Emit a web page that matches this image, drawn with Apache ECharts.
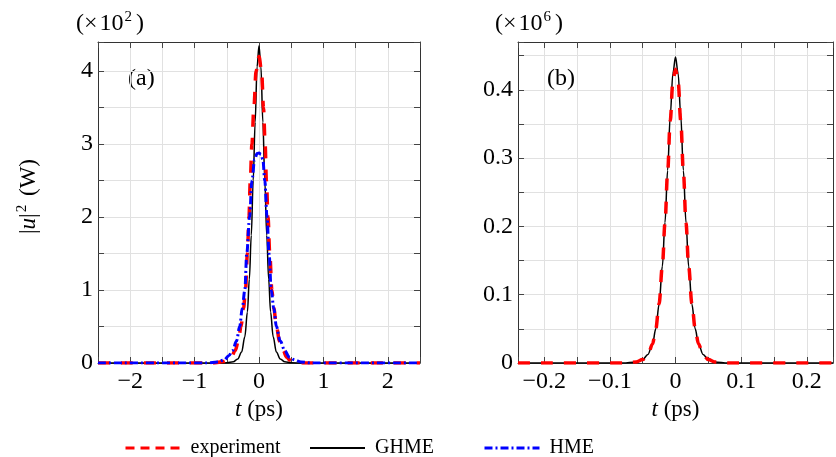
<!DOCTYPE html>
<html>
<head>
<meta charset="utf-8">
<script src="https://cdn.jsdelivr.net/npm/echarts@6/dist/echarts.min.js"></script>
<style>
  html, body { margin: 0; padding: 0; background: #fff; }
  #main { width: 836px; height: 457px; }
</style>
</head>
<body>
<div id="main"></div>
<script>
// panel (a): t (ps) vs |u|^2 in units of 1e2 W
var expA = [[-2.5, 0], [-0.7, 0], [-0.55, 0.02], [-0.48, 0.04], [-0.42, 0.1], [-0.37, 0.17], [-0.32, 0.3],
  [-0.28, 0.5], [-0.24, 0.75], [-0.21, 1.0], [-0.18, 1.5], [-0.156, 2.0], [-0.135, 2.5], [-0.11, 3.0],
  [-0.08, 3.5], [-0.045, 4.0], [0, 4.2], [0.04, 4.0], [0.07, 3.5], [0.095, 3.0], [0.115, 2.5], [0.14, 2.0],
  [0.167, 1.5], [0.2, 1.0], [0.23, 0.75], [0.27, 0.5], [0.32, 0.3], [0.375, 0.17], [0.43, 0.08],
  [0.48, 0.04], [0.55, 0.015], [0.7, 0], [2.5, 0]];
var ghmeA = [[-2.5, 0], [-0.7, 0], [-0.5, 0.003], [-0.4, 0.017], [-0.33, 0.055], [-0.27, 0.15], [-0.22, 0.36],
  [-0.18, 0.7], [-0.15, 1.15], [-0.12, 1.75], [-0.09, 2.5], [-0.06, 3.3], [-0.03, 4.06], [0, 4.35],
  [0.03, 4.06], [0.06, 3.3], [0.09, 2.5], [0.12, 1.75], [0.15, 1.15], [0.18, 0.7], [0.22, 0.36],
  [0.27, 0.15], [0.33, 0.055], [0.4, 0.017], [0.5, 0.003], [0.7, 0], [2.5, 0]];
var hmeA = [[-2.5, 0], [-0.8, 0], [-0.65, 0.015], [-0.54, 0.04], [-0.47, 0.1], [-0.41, 0.17], [-0.35, 0.3],
  [-0.3, 0.5], [-0.26, 0.75], [-0.22, 1.0], [-0.19, 1.5], [-0.146, 2.0], [-0.11, 2.5], [-0.068, 2.79],
  [-0.03, 2.87], [0, 2.88], [0.03, 2.86], [0.06, 2.79], [0.09, 2.5], [0.125, 2.0], [0.156, 1.5],
  [0.19, 1.0], [0.23, 0.75], [0.27, 0.5], [0.33, 0.3], [0.4, 0.17], [0.47, 0.08], [0.56, 0.04],
  [0.65, 0.015], [0.8, 0], [2.5, 0]];

// panel (b): t (ps) vs |u|^2 in units of 1e6 W
var expB = [[-0.24, 0], [-0.08, 0], [-0.06, 0.0015], [-0.05, 0.005], [-0.042, 0.012], [-0.035, 0.028],
  [-0.03, 0.05], [-0.025, 0.087], [-0.02, 0.142], [-0.016, 0.205], [-0.012, 0.28], [-0.008, 0.355],
  [-0.004, 0.412], [0, 0.43], [0.004, 0.412], [0.008, 0.355], [0.012, 0.28], [0.016, 0.205],
  [0.02, 0.142], [0.025, 0.087], [0.03, 0.05], [0.035, 0.028], [0.042, 0.012], [0.05, 0.005],
  [0.06, 0.0015], [0.08, 0], [0.24, 0]];
var ghmeB = [[-0.24, 0], [-0.08, 0], [-0.06, 0.0015], [-0.05, 0.005], [-0.042, 0.0126], [-0.035, 0.028],
  [-0.03, 0.05], [-0.025, 0.086], [-0.02, 0.142], [-0.016, 0.206], [-0.012, 0.282], [-0.008, 0.362],
  [-0.004, 0.424], [0, 0.448], [0.004, 0.424], [0.008, 0.362], [0.012, 0.282], [0.016, 0.206],
  [0.02, 0.142], [0.025, 0.086], [0.03, 0.05], [0.035, 0.028], [0.042, 0.0126], [0.05, 0.005],
  [0.06, 0.0015], [0.08, 0], [0.24, 0]];

var legendNames = ['experiment', 'GHME', 'HME'];
var scaleLabels = ['2', '6'];
var panelLabels = ['(a)', '(b)'];

var FONT = 'Liberation Serif';
var myChart = echarts.init(document.getElementById('main'));

function minus(s) { return String(s).replace('-', '\u2212'); }
function stepLabel(step) {
    return function (v) {
        var k = v / step;
        if (Math.abs(k - Math.round(k)) > 1e-6) return '';
        var r = Math.round(k) * step;
        if (Math.abs(r) < 1e-9) return '0';
        return minus(step < 1 ? r.toFixed(1) : String(r));
    };
}

var gridLine = { show: true, lineStyle: { color: '#e1e1e1', width: 1 } };
var boxLine = { show: true, onZero: false, lineStyle: { color: '#333', width: 1 } };
var inTick = { show: true, inside: true, length: 6, lineStyle: { color: '#444', width: 1 } };
var lblStyle = { color: '#000', fontFamily: FONT, fontSize: 24 };

function xAxes(gi, min, max, step, lblStep) {
    var base = { type: 'value', gridIndex: gi, min: min, max: max, minInterval: step, maxInterval: step };
    return [
        Object.assign({}, base, {
            position: 'bottom', axisLine: boxLine, axisTick: inTick, splitLine: gridLine,
            axisLabel: Object.assign({ margin: 7, formatter: stepLabel(lblStep) }, lblStyle),
            name: '{i|t} (ps)', nameLocation: 'middle', nameGap: 31,
            nameTextStyle: { color: '#000', fontFamily: FONT, fontSize: 23, rich: { i: { fontStyle: 'italic', fontFamily: FONT, fontSize: 23 } } }
        }),
        Object.assign({}, base, {
            position: 'top', axisLine: boxLine, axisTick: inTick, splitLine: { show: false }, axisLabel: { show: false }
        })
    ];
}
function yAxes(gi, min, max, step, lblStep, withName) {
    var base = { type: 'value', gridIndex: gi, min: min, max: max, interval: step };
    var left = Object.assign({}, base, {
        position: 'left', axisLine: boxLine, axisTick: inTick, splitLine: gridLine,
        axisLabel: Object.assign({ margin: 5, formatter: stepLabel(lblStep) }, lblStyle)
    });
    if (withName) {
        Object.assign(left, {
            name: '|{i|u}|{s|2} (W)', nameLocation: 'middle', nameGap: 56, nameRotate: 90,
            nameTextStyle: { color: '#000', fontFamily: FONT, fontSize: 23, padding: [0, 0, 0, 12],
                rich: { i: { fontStyle: 'italic', fontFamily: FONT, fontSize: 23 },
                        s: { fontFamily: FONT, fontSize: 15, verticalAlign: 'bottom', padding: [0, 3, 12, 1] } } }
        });
    }
    return [left, Object.assign({}, base, {
        position: 'right', axisLine: boxLine, axisTick: inTick, splitLine: { show: false }, axisLabel: { show: false }
    })];
}

var redLine = { color: '#ff0000', width: 3.5, type: [12, 11] };
var blackLine = { color: '#000000', width: 1.5, type: 'solid' };
var blueLine = { color: '#0000ff', width: 3, type: [8, 3, 2, 3] };

function curve(name, data, xi, yi, ls, z) {
    return {
        name: name, type: 'line', xAxisIndex: xi, yAxisIndex: yi, data: data,
        showSymbol: false, symbol: 'none', smooth: 0.35, smoothMonotone: 'x',
        lineStyle: ls, itemStyle: { color: ls.color }, z: z
    };
}

function scaleText(x, p) {
    return {
        type: 'text', left: x, top: 10,
        style: { text: '(\u00d7\u200a10{s|' + p + '})', fill: '#000', font: '24px "' + FONT + '"',
                 rich: { s: { fontSize: 15, fontFamily: FONT, verticalAlign: 'bottom', padding: [0, 4, 12, 1] } } }
    };
}

var legendBase = {
    top: 438, padding: 0, itemWidth: 55, itemHeight: 14, selectedMode: false,
    itemStyle: { opacity: 0 },
    textStyle: { color: '#000', fontFamily: FONT, fontSize: 20, padding: [0, 0, 0, 5] }
};

var option = {
    animation: false,
    backgroundColor: '#fff',
    grid: [
        { left: 98, top: 42, width: 322, height: 321 },
        { left: 518, top: 42, width: 320, height: 321 }
    ],
    xAxis: xAxes(0, -2.5, 2.5, 0.5, 1).concat(xAxes(1, -0.24, 0.24, 0.05, 0.1)),
    yAxis: yAxes(0, 0, 4.4, 0.5, 1, true).concat(yAxes(1, 0, 0.47, 0.05, 0.1, false)),
    legend: [
        Object.assign({}, legendBase, { left: 124, data: [{ name: legendNames[0], itemStyle: { opacity: 0 }, lineStyle: { type: [9, 6], width: 3, opacity: 1 } }] }),
        Object.assign({}, legendBase, { left: 309, data: [{ name: legendNames[1], itemStyle: { opacity: 0 }, lineStyle: { opacity: 1 } }] }),
        Object.assign({}, legendBase, { left: 483, data: [{ name: legendNames[2], itemStyle: { opacity: 0 }, lineStyle: { type: [8, 3, 2, 3], width: 3, opacity: 1 } }] })
    ],
    graphic: [
        scaleText(76, scaleLabels[0]),
        scaleText(495, scaleLabels[1]),
        { type: 'text', left: 128, top: 67, style: { text: panelLabels[0], fill: '#000', font: '24px "' + FONT + '"' } },
        { type: 'text', left: 547, top: 67, style: { text: panelLabels[1], fill: '#000', font: '24px "' + FONT + '"' } }
    ],
    series: [
        curve(legendNames[1], ghmeA, 0, 0, blackLine, 2),
        curve(legendNames[0], expA, 0, 0, redLine, 3),
        curve(legendNames[2], hmeA, 0, 0, blueLine, 4),
        curve(legendNames[1], ghmeB, 2, 2, blackLine, 2),
        curve(legendNames[0], expB, 2, 2, redLine, 3)
    ]
};

myChart.setOption(option);
</script>
</body>
</html>
